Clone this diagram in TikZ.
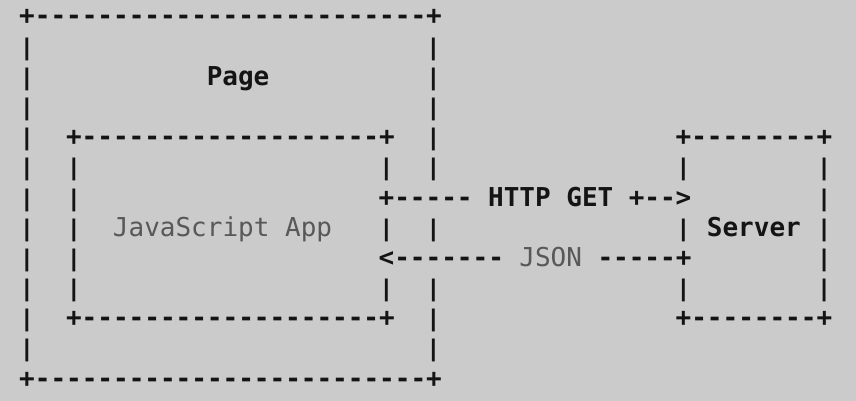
\documentclass[tikz,border=0pt]{standalone}
\usepackage{graphicx}
\usepackage{fontspec}
\setmonofont{DejaVu Sans Mono}
\definecolor{bg}{HTML}{CBCBCB}
\definecolor{ink}{HTML}{141414}
\definecolor{dim}{HTML}{585858}
\newcommand{\asc}[5][ascii]{\node[#1] (#2) at ({19.2+15.63*(#3)},{25+30.17*(#4)}) {#5};}
\newcommand{\vbar}{\scalebox{1}[0.88]{|}}
\begin{document}
\begin{tikzpicture}[x=1pt,y=-1pt,
  ascii/.style={inner sep=0pt, outer sep=0pt, anchor=base west,
    font=\fontsize{26}{30}\selectfont\ttfamily\bfseries, text=ink},
  bar/.style={ascii},
  dimtext/.style={ascii, font=\fontsize{26}{30}\selectfont\ttfamily, text=dim}]
\fill[bg] (0,0) rectangle (856,401);
\useasboundingbox (0,0) rectangle (856,401);
% Page box
\asc{pagetop}{0}{0}{+-------------------------+}
\asc{pagebot}{0}{12}{+-------------------------+}
\foreach \r in {1,...,11}{\asc[bar]{pageL\r}{0}{\r}{\vbar}}
\foreach \r in {1,2,3,4,5,7,9,10,11}{\asc[bar]{pageR\r}{26}{\r}{\vbar}}
\asc{pagelabel}{12}{2}{Page}
% JavaScript App box
\asc{apptop}{3}{4}{+-------------------+}
\asc{appbot}{3}{10}{+-------------------+}
\foreach \r in {5,...,9}{\asc[bar]{appL\r}{3}{\r}{\vbar}}
\foreach \r in {5,7,9}{\asc[bar]{appR\r}{23}{\r}{\vbar}}
\asc[dimtext]{applabel}{6}{7}{JavaScript App}
% Server box
\asc{srvtop}{42}{4}{+--------+}
\asc{srvbot}{42}{10}{+--------+}
\foreach \r in {5,7,9}{\asc[bar]{srvL\r}{42}{\r}{\vbar}}
\foreach \r in {5,...,9}{\asc[bar]{srvR\r}{51}{\r}{\vbar}}
\asc{srvlabel}{44}{7}{Server}
% request
\asc{reqa}{23}{6}{+-----}
\asc{reqlabel}{30}{6}{HTTP GET}
\asc{reqb}{39}{6}{+-->}
% response
\asc{resa}{23}{8}{<-------}
\asc[dimtext]{reslabel}{32}{8}{JSON}
\asc{resb}{37}{8}{-----+}
\end{tikzpicture}
\end{document}
